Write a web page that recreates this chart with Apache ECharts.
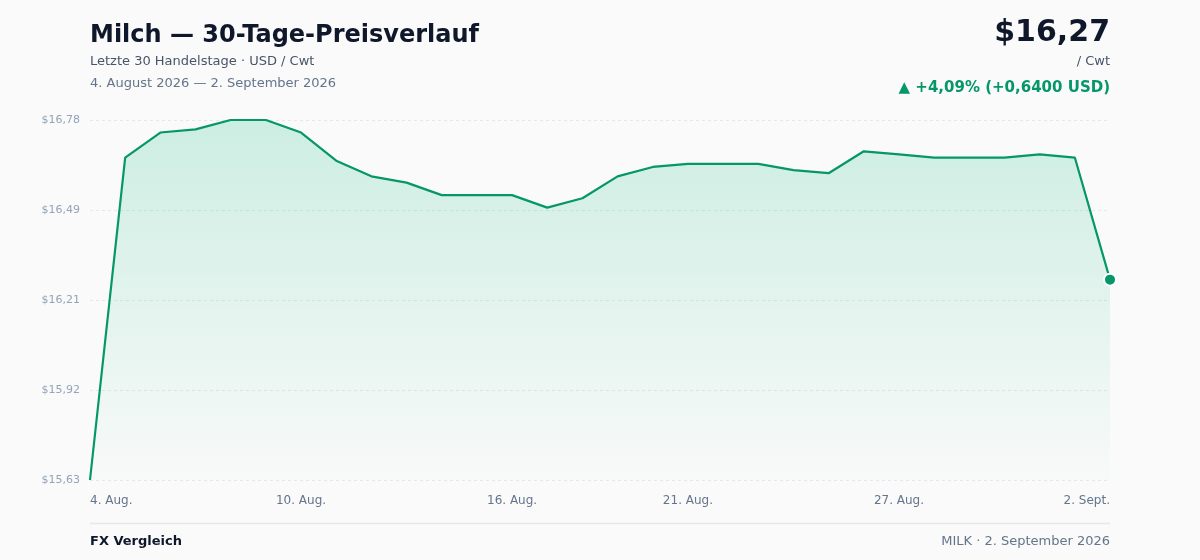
<!DOCTYPE html>
<html><head><meta charset="utf-8">
<script src="https://cdn.jsdelivr.net/npm/echarts@6/dist/echarts.min.js"></script>
<style>html,body{margin:0;padding:0;background:#fafafa;}#c{width:1200px;height:560px;}</style>
</head><body><div id="c"></div>
<script>
const categories = ["4. Aug.","5. Aug.","6. Aug.","7. Aug.","8. Aug.","9. Aug.","10. Aug.","11. Aug.","12. Aug.","13. Aug.","14. Aug.","15. Aug.","16. Aug.","17. Aug.","18. Aug.","19. Aug.","20. Aug.","21. Aug.","22. Aug.","23. Aug.","24. Aug.","25. Aug.","26. Aug.","27. Aug.","28. Aug.","29. Aug.","30. Aug.","31. Aug.","1. Sept.","2. Sept."];
const prices = [15.63,16.66,16.74,16.75,16.78,16.78,16.74,16.65,16.60,16.58,16.54,16.54,16.54,16.50,16.53,16.60,16.63,16.64,16.64,16.64,16.62,16.61,16.68,16.67,16.66,16.66,16.66,16.67,16.66,16.27];
const xLabelIndices = [0,6,12,17,23,29];
const yTickLabels = ["$15,63","$15,92","$16,21","$16,49","$16,78"];
const yMin = 15.63, yMax = 16.78;
const yInterval = (yMax - yMin) / 4;

const FONT = "DejaVu Sans";
const chart = echarts.init(document.getElementById('c'), null, {renderer:'canvas'});
chart.setOption({
  backgroundColor: '#fafafa',
  animation: false,
  textStyle: {fontFamily: FONT},
  title: [
    {text: 'Milch — 30-Tage-Preisverlauf', left: 90, top: 24, padding: 0, textStyle:{fontFamily:FONT, fontSize:24, fontWeight:'bold', color:'#0f172a'}},
    {text: 'Letzte 30 Handelstage · USD / Cwt', left: 90, top: 55, padding: 0, textStyle:{fontFamily:FONT, fontSize:13, fontWeight:'normal', color:'#475569'}},
    {text: '4. August 2026 — 2. September 2026', left: 90, top: 77, padding: 0, textStyle:{fontFamily:FONT, fontSize:13, fontWeight:'normal', color:'#64748b'}},
    {text: '$16,27', right: 90, top: 18, padding: 0, textStyle:{fontFamily:FONT, fontSize:30, fontWeight:'bold', color:'#0f172a'}},
    {text: '/ Cwt', right: 90, top: 55, padding: 0, textStyle:{fontFamily:FONT, fontSize:13, fontWeight:'normal', color:'#475569'}},
    {text: '▲ +4,09% (+0,6400 USD)', right: 90, top: 81, padding: 0, textStyle:{fontFamily:FONT, fontSize:15, fontWeight:'bold', color:'#059669'}},
    {text: 'FX Vergleich', left: 90, top: 535, padding: 0, textStyle:{fontFamily:FONT, fontSize:13, fontWeight:'bold', color:'#0f172a'}},
    {text: 'MILK · 2. September 2026', right: 90, top: 535, padding: 0, textStyle:{fontFamily:FONT, fontSize:13, fontWeight:'normal', color:'#64748b'}}
  ],
  graphic: [
    {type:'line', shape:{x1:90, y1:523.5, x2:1110, y2:523.5}, style:{stroke:'#e5e7eb', lineWidth:1.5}}
  ],
  grid: {left: 90, right: 90, top: 120, bottom: 80, containLabel: false},
  xAxis: {
    type: 'category',
    data: categories,
    boundaryGap: false,
    axisLine: {show:false},
    axisTick: {show:false},
    axisLabel: {
      interval: (i) => xLabelIndices.includes(i),
      color: '#64748b', fontSize: 12, fontFamily: FONT, margin: 15,
      alignMinLabel: 'left', alignMaxLabel: 'right'
    },
    splitLine: {show:false}
  },
  yAxis: {
    type: 'value',
    min: yMin, max: yMax, interval: yInterval,
    axisLine: {show:false}, axisTick: {show:false},
    axisLabel: {
      color: '#94a3b8', fontSize: 11, fontFamily: FONT, margin: 10,
      formatter: (v) => yTickLabels[Math.round((v - yMin) / yInterval)]
    },
    splitLine: {show:true, lineStyle:{color:'#e5e7eb', type:[3,3], width:1}}
  },
  series: [{
    type: 'line',
    data: prices,
    symbol: 'none',
    lineStyle: {color:'#059669', width:2.2},
    areaStyle: {
      color: new echarts.graphic.LinearGradient(0,0,0,1,[
        {offset:0, color:'rgba(16,185,129,0.28)'},
        {offset:1, color:'rgba(16,185,129,0.01)'}
      ]),
      origin: 'start'
    },
    markPoint: {
      data: [{coord:[categories.length-1, prices[prices.length-1]]}],
      symbol: 'circle', symbolSize: 12,
      itemStyle: {color:'#059669', borderColor:'#ffffff', borderWidth:2},
      label: {show:false}
    }
  }]
});
</script></body></html>
